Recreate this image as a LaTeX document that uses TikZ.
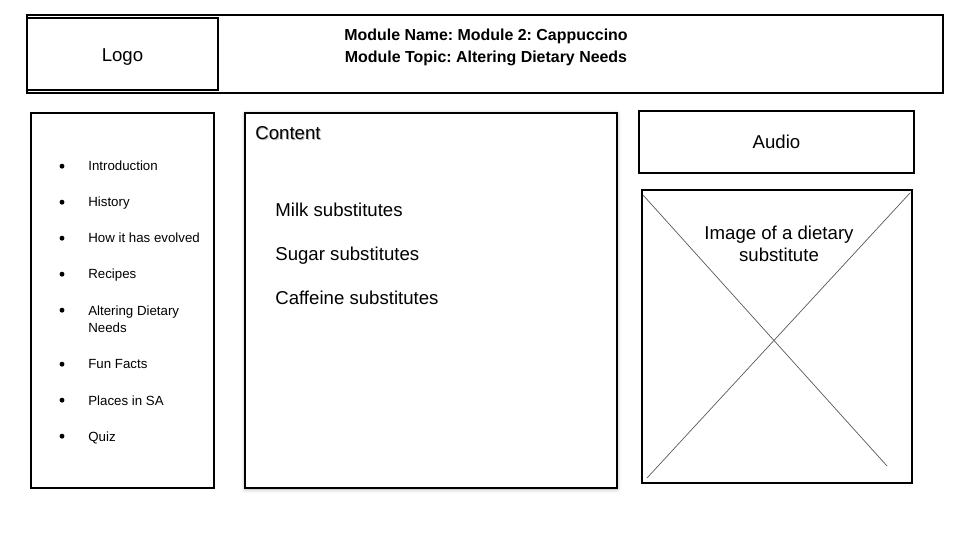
\documentclass[tikz,border=0pt]{standalone}
\usepackage{fontspec}
\setmainfont{Liberation Sans}
\usetikzlibrary{shadows.blur}
\frenchspacing
\tikzset{
  box/.style={draw,line width=0.6pt},
  big/.style={font=\fontsize{10.6}{12.5}\selectfont,inner sep=0pt},
  small/.style={font=\fontsize{7.56}{10.2}\selectfont,inner sep=0pt},
  head/.style={font=\bfseries\fontsize{9.07}{12.5}\selectfont,inner sep=0pt,anchor=base},
  cross/.style={draw=black!65,line width=0.4pt},
}
\begin{document}
\begin{tikzpicture}[x=0.02cm,y=-0.02cm,line cap=round]
  \useasboundingbox (0,0) rectangle (960,540);
  \draw[box,line width=0.75pt] (27,15) rectangle (943,93);
  \draw[box] (27,18) rectangle (218,90);
  \node[big,anchor=base] (logo) at (122.5,61.7) {Logo};
  \node[head] (modname) at (486,40.7) {Module Name: Module 2: Cappuccino};
  \node[head] (modtopic) at (486,62.7) {Module Topic: Altering Dietary Needs};

  \draw[box] (31,113) rectangle (214,488);
  \foreach \y/\t/\dy [count=\i] in {171/Introduction/0,207/History/0,243/How it has evolved/0,
      279/Recipes/0,315/{Altering Dietary\\Needs}/18,369/Fun Facts/0,405/Places in SA/0,441/Quiz/0}{
    \fill (62,\y-4.8) circle (1.4pt);
    \node[small,anchor=base west,align=left] (nav\i) at (88,\y+\dy) {\t};
  }

  \draw[box,fill=white,blur shadow={shadow xshift=0pt,shadow yshift=-0.6pt,
      shadow blur radius=2.5pt,shadow opacity=30}] (245,113) rectangle (617,488);
  \node[big,anchor=base west,text=black!45,opacity=0.6] (contentshadow) at (256,141) {Content};
  \node[big,anchor=base west] (content) at (255,139.7) {Content};
  \node[big,anchor=base west] (milk) at (275,216.7) {Milk substitutes};
  \node[big,anchor=base west] (sugar) at (275,260.7) {Sugar substitutes};
  \node[big,anchor=base west] (caffeine) at (275,304.7) {Caffeine substitutes};

  \draw[box] (639,111) rectangle (914,173);
  \node[big,anchor=base] (audio) at (776.5,148.7) {Audio};

  \draw[box,line width=1.1pt] (642,190) rectangle (912,483);
  \coordinate (tl) at (643,195);
  \coordinate (br) at (887,466);
  \coordinate (tr) at (910,193);
  \coordinate (bl) at (647,478);
  \draw[cross] (tl) -- (br);
  \draw[cross] (tr) -- (bl);
  \node[big,align=center] (imgtext) at (779,244) {Image of a dietary\\substitute};
\end{tikzpicture}
\end{document}
